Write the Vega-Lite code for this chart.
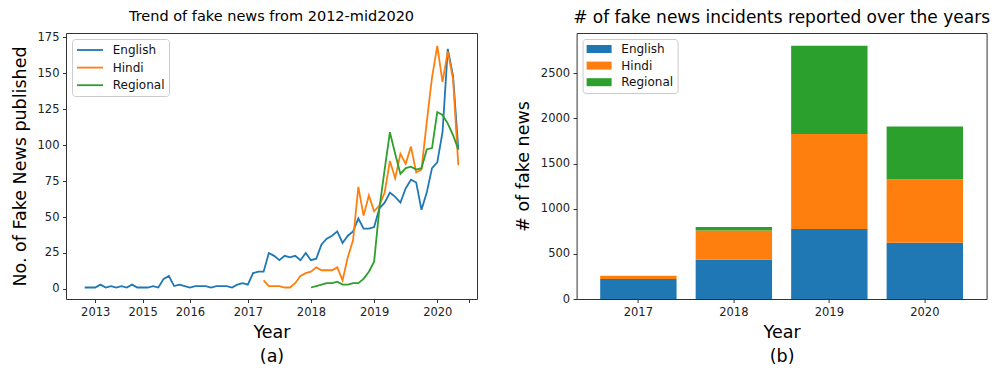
{
  "$schema": "https://vega.github.io/schema/vega-lite/v6.json",
  "padding": {"left": 10, "top": 8, "right": 4, "bottom": 2},
  "bounds": "flush",
  "spacing": 99.6,
  "resolve": {"scale": {"color": "independent"}, "legend": {"color": "independent"}},
  "config": {
    "font": "DejaVu Sans",
    "view": {"stroke": "#333333", "strokeWidth": 1},
    "axis": {
      "domain": false,
      "grid": false,
      "ticks": true,
      "tickColor": "#333333",
      "tickSize": 3.5,
      "labelFontSize": 11.5,
      "labelColor": "#222222",
      "labelPadding": 3.5,
      "labelFlush": false,
      "labelOverlap": false,
      "titleFontSize": 17.5,
      "titleFontWeight": "normal",
      "titleColor": "#000000"
    },
    "title": {"fontWeight": "normal", "baseline": "alphabetic", "color": "#000000"}
  },
  "hconcat": [
    {
      "width": 411,
      "height": 266,
      "title": {"text": "Trend of fake news from 2012-mid2020", "fontSize": 14.5, "offset": 6.5},
      "data": {
        "values": [
          {"i": 0, "English": 1}, {"i": 1, "English": 1}, {"i": 2, "English": 1}, {"i": 3, "English": 3},
          {"i": 4, "English": 1}, {"i": 5, "English": 2}, {"i": 6, "English": 1}, {"i": 7, "English": 2},
          {"i": 8, "English": 1}, {"i": 9, "English": 3}, {"i": 10, "English": 1}, {"i": 11, "English": 1},
          {"i": 12, "English": 1}, {"i": 13, "English": 2}, {"i": 14, "English": 1}, {"i": 15, "English": 7},
          {"i": 16, "English": 9}, {"i": 17, "English": 2}, {"i": 18, "English": 3}, {"i": 19, "English": 2},
          {"i": 20, "English": 1}, {"i": 21, "English": 2}, {"i": 22, "English": 2}, {"i": 23, "English": 2},
          {"i": 24, "English": 1}, {"i": 25, "English": 2}, {"i": 26, "English": 2}, {"i": 27, "English": 2},
          {"i": 28, "English": 1}, {"i": 29, "English": 3}, {"i": 30, "English": 4}, {"i": 31, "English": 3},
          {"i": 32, "English": 11}, {"i": 33, "English": 12},
          {"i": 34, "English": 12, "Hindi": 6},
          {"i": 35, "English": 25, "Hindi": 2},
          {"i": 36, "English": 23, "Hindi": 2},
          {"i": 37, "English": 20, "Hindi": 2},
          {"i": 38, "English": 23, "Hindi": 1},
          {"i": 39, "English": 22, "Hindi": 1},
          {"i": 40, "English": 23, "Hindi": 4},
          {"i": 41, "English": 20, "Hindi": 9},
          {"i": 42, "English": 25, "Hindi": 11},
          {"i": 43, "English": 20, "Hindi": 12, "Regional": 1},
          {"i": 44, "English": 21, "Hindi": 15, "Regional": 2},
          {"i": 45, "English": 31, "Hindi": 13, "Regional": 3},
          {"i": 46, "English": 35, "Hindi": 13, "Regional": 4},
          {"i": 47, "English": 37, "Hindi": 13, "Regional": 4},
          {"i": 48, "English": 40, "Hindi": 15, "Regional": 5},
          {"i": 49, "English": 32, "Hindi": 6, "Regional": 3},
          {"i": 50, "English": 37, "Hindi": 22, "Regional": 3},
          {"i": 51, "English": 40, "Hindi": 34, "Regional": 4},
          {"i": 52, "English": 49, "Hindi": 71, "Regional": 4},
          {"i": 53, "English": 42, "Hindi": 51, "Regional": 7},
          {"i": 54, "English": 42, "Hindi": 65, "Regional": 12},
          {"i": 55, "English": 43, "Hindi": 54, "Regional": 19},
          {"i": 56, "English": 56, "Hindi": 58, "Regional": 56},
          {"i": 57, "English": 60, "Hindi": 67, "Regional": 83},
          {"i": 58, "English": 67, "Hindi": 89, "Regional": 109},
          {"i": 59, "English": 64, "Hindi": 77, "Regional": 94},
          {"i": 60, "English": 60, "Hindi": 94, "Regional": 80},
          {"i": 61, "English": 70, "Hindi": 87, "Regional": 84},
          {"i": 62, "English": 76, "Hindi": 99, "Regional": 85},
          {"i": 63, "English": 74, "Hindi": 81, "Regional": 83},
          {"i": 64, "English": 55, "Hindi": 83, "Regional": 84},
          {"i": 65, "English": 67, "Hindi": 116, "Regional": 97},
          {"i": 66, "English": 84, "Hindi": 147, "Regional": 98},
          {"i": 67, "English": 88, "Hindi": 169, "Regional": 123},
          {"i": 68, "English": 109, "Hindi": 144, "Regional": 121},
          {"i": 69, "English": 167, "Hindi": 165, "Regional": 115},
          {"i": 70, "English": 148, "Hindi": 146, "Regional": 107},
          {"i": 71, "English": 97, "Hindi": 86, "Regional": 97}
        ]
      },
      "transform": [
        {"fold": ["English", "Hindi", "Regional"], "as": ["lang", "n"]},
        {"filter": "isValid(datum.n)"}
      ],
      "mark": {"type": "line", "strokeWidth": 1.8},
      "encoding": {
        "x": {
          "field": "i",
          "type": "quantitative",
          "scale": {"domain": [-3.55, 74.55], "nice": false, "zero": false},
          "axis": {
            "values": [2, 11, 20, 31, 43, 55, 67, 73],
            "labelExpr": "datum.value == 2 ? '2013' : datum.value == 11 ? '2015' : datum.value == 20 ? '2016' : datum.value == 31 ? '2017' : datum.value == 43 ? '2018' : datum.value == 55 ? '2019' : datum.value == 67 ? '2020' : ''",
            "title": ["Year", "(a)"],
            "titleLineHeight": 24,
            "titlePadding": 6
          }
        },
        "y": {
          "field": "n",
          "type": "quantitative",
          "scale": {"domain": [-7, 178], "nice": false, "zero": false},
          "axis": {
            "values": [0, 25, 50, 75, 100, 125, 150, 175],
            "title": "No. of Fake News published",
            "titlePadding": 8
          }
        },
        "color": {
          "field": "lang",
          "type": "nominal",
          "scale": {"domain": ["English", "Hindi", "Regional"], "range": ["#1f77b4", "#ff7f0e", "#2ca02c"]},
          "legend": {
            "title": null,
            "orient": "top-left",
            "offset": 6,
            "padding": 4,
            "symbolType": "M-1,0H3.333",
            "symbolSize": 144,
            "symbolStrokeWidth": 1.8,
            "labelFontSize": 12,
            "labelColor": "#111111",
            "labelOffset": 22.7,
            "rowPadding": 4.6,
            "strokeColor": "#cccccc",
            "fillColor": "#ffffff",
            "cornerRadius": 3
          }
        }
      }
    },
    {
      "width": 410,
      "height": 266,
      "title": {"text": "# of fake news incidents reported over the years", "fontSize": 17, "offset": 6},
      "data": {
        "values": [
          {"year": "2017", "lang": "English", "n": 221},
          {"year": "2017", "lang": "Hindi", "n": 37},
          {"year": "2017", "lang": "Regional", "n": 0},
          {"year": "2018", "lang": "English", "n": 435},
          {"year": "2018", "lang": "Hindi", "n": 324},
          {"year": "2018", "lang": "Regional", "n": 37},
          {"year": "2019", "lang": "English", "n": 774},
          {"year": "2019", "lang": "Hindi", "n": 1054},
          {"year": "2019", "lang": "Regional", "n": 977},
          {"year": "2020", "lang": "English", "n": 623},
          {"year": "2020", "lang": "Hindi", "n": 704},
          {"year": "2020", "lang": "Regional", "n": 582}
        ]
      },
      "mark": {"type": "bar"},
      "encoding": {
        "x": {
          "field": "year",
          "type": "ordinal",
          "scale": {"paddingInner": 0.2, "paddingOuter": 0.247},
          "axis": {"labelAngle": 0, "title": ["Year", "(b)"], "titleLineHeight": 24, "titlePadding": 6}
        },
        "y": {
          "field": "n",
          "type": "quantitative",
          "stack": "zero",
          "scale": {"domain": [0, 2945], "nice": false},
          "axis": {
            "values": [0, 500, 1000, 1500, 2000, 2500],
            "format": "d",
            "title": "# of fake news",
            "titlePadding": 8
          }
        },
        "order": {"field": "lang", "sort": "ascending"},
        "color": {
          "field": "lang",
          "type": "nominal",
          "scale": {"domain": ["English", "Hindi", "Regional"], "range": ["#1f77b4", "#ff7f0e", "#2ca02c"]},
          "legend": {
            "title": null,
            "orient": "top-left",
            "offset": 6,
            "padding": 4,
            "symbolType": "M-1,-0.667H3.167V0.667H-1Z",
            "symbolSize": 144,
            "symbolStrokeWidth": 0,
            "labelFontSize": 12,
            "labelColor": "#111111",
            "labelOffset": 22.7,
            "rowPadding": 4.6,
            "strokeColor": "#cccccc",
            "fillColor": "#ffffff",
            "cornerRadius": 3
          }
        }
      }
    }
  ]
}
